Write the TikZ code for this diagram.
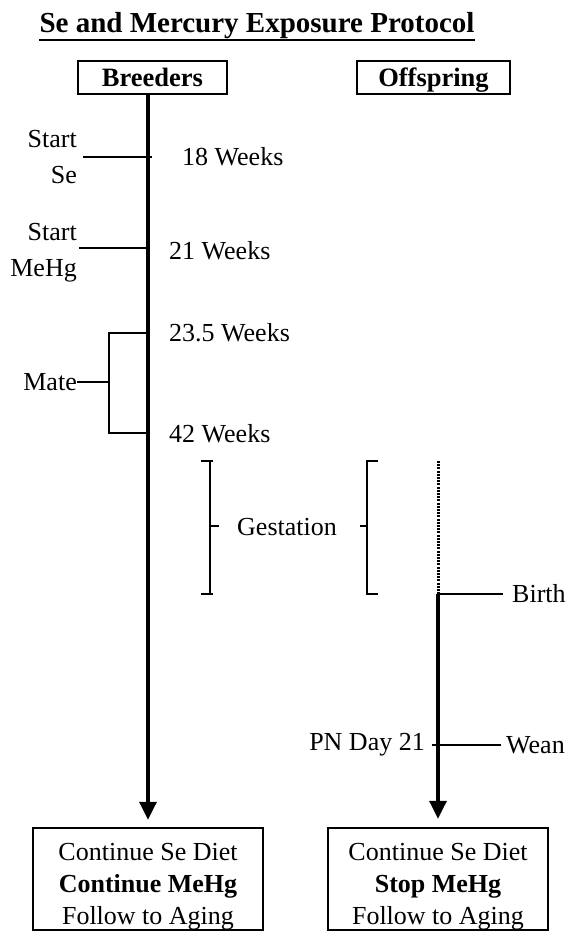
\documentclass[tikz,border=0pt]{standalone}
\usepackage{fontspec}
\setmainfont{Liberation Serif}
\usetikzlibrary{arrows.meta}
\begin{document}
\begin{tikzpicture}[x=1pt,y=-1pt,
  lbl/.style={inner sep=0pt, align=right, font=\fontsize{26}{36}\selectfont},
  hdr/.style={draw, line width=2.5pt, font=\fontsize{26.5}{30}\selectfont\bfseries, minimum height=33pt, inner sep=0pt, text height=21pt, text depth=2pt},
  endbox/.style={draw, line width=2.5pt, font=\fontsize{26}{32}\selectfont, minimum height=102pt, inner sep=0pt},
  tl/.style={line width=3.5pt},
  tickline/.style={line width=2pt},
  arr/.style={tl, -{Triangle[width=17pt,length=18pt]}}]
\useasboundingbox (0,0) rectangle (579,936);

% title
\node[inner sep=0pt, anchor=base, font=\fontsize{29}{34}\selectfont\bfseries] (title) at (257,33) {Se and Mercury Exposure Protocol};
\draw[line width=2.8pt] ([yshift=-7pt]title.base west) -- ([yshift=-7pt]title.base east);

% header boxes
\node[hdr, minimum width=149pt] (breed) at (152.5,77.5) {Breeders};
\node[hdr, minimum width=153pt] (off) at (433.5,77.5) {Offspring};

% end boxes
\node[endbox, minimum width=230pt] (lbox) at (148,879) {\raisebox{-7pt}[\height][\depth]{\begin{tabular}{@{}c@{}}Continue Se Diet\\\textbf{Continue MeHg}\\Follow to Aging\end{tabular}}};
\node[endbox, minimum width=220pt] (rbox) at (438,879) {\raisebox{-7pt}[\height][\depth]{\begin{tabular}{@{}c@{}}Continue Se Diet\\\textbf{Stop MeHg}\\Follow to Aging\end{tabular}}};

% coordinates on the timelines
\coordinate (bx) at (148,0);
\coordinate (gtop) at (438,461);
\coordinate (birthpt) at (438,594);

% labels
\node[lbl, anchor=east] (startse) at (77,157) {Start\\Se};
\node[lbl, anchor=east] (startmehg) at (77,253) {Start\\MeHg};
\node[lbl, anchor=east] (mate) at (77,382) {Mate};
\node[lbl, anchor=west] (w18) at (182,157) {18 Weeks};
\node[lbl, anchor=west] (w21) at (169,251) {21 Weeks};
\node[lbl, anchor=west] (w235) at (169,333) {23.5 Weeks};
\node[lbl, anchor=west] (w42) at (169,434) {42 Weeks};
\node[lbl, anchor=west] (gest) at (237,527) {Gestation};
\node[lbl, anchor=west] (birth) at (512,594) {Birth};
\node[lbl, anchor=east] (pn) at (425,745) {PN Day 21};
\node[lbl, anchor=west] (wean) at (506,745) {Wean};

% breeders timeline
\draw[arr] (breed.south -| bx) -- ([yshift=7pt]lbox.north -| bx);

% ticks
\draw[tickline] ([xshift=6pt]startse.east) -- (152,157);
\draw[tickline] ([xshift=2pt]startmehg.east |- 0,248) -- (148,248);
\draw[tickline] (148,333) -- (109,333) -- (109,433) -- (148,433);
\draw[tickline] (mate.east) -- (109,382);

% gestation brackets
\draw[tickline] (201,461) -- (213,461) (210,461) -- (210,594) (201,594) -- (213,594) (210,526) -- (219,526);
\draw[tickline] (378,461) -- (366,461) (367,461) -- (367,594) (366,594) -- (378,594) (360,526) -- (367,526);

% offspring timeline
\draw[line width=3pt, dash pattern=on 2pt off 1.2pt] (gtop) -- (birthpt);
\draw[arr] (birthpt) -- ([yshift=8pt]rbox.north);
\draw[tickline] (birthpt) -- (503,594);
\draw[tickline] (432,745) -- (501,745);
\end{tikzpicture}
\end{document}
